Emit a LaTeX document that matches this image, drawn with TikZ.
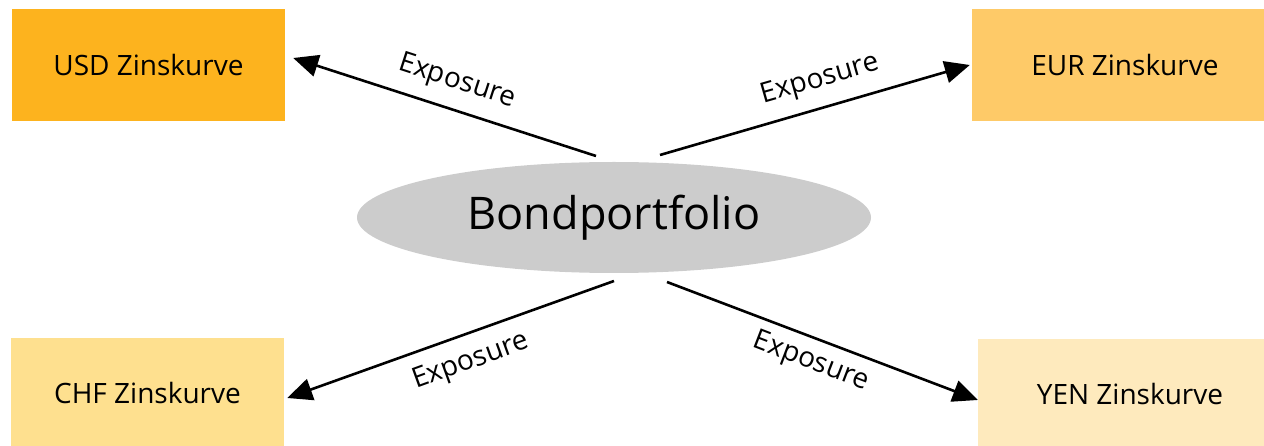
\documentclass[tikz,border=0pt]{standalone}
\usepackage{fontspec}
\setmainfont{Open Sans}
\usetikzlibrary{arrows.meta,shapes.geometric}
\definecolor{cusd}{HTML}{FDB31E}
\definecolor{ceur}{HTML}{FECA68}
\definecolor{cchf}{HTML}{FEE08F}
\definecolor{cyen}{HTML}{FEEABD}
\definecolor{cell}{HTML}{CCCCCC}
\tikzset{
  curvebox/.style={rectangle, inner sep=0pt, font=\fontsize{28}{32}\selectfont},
  expo/.style={inner sep=0pt, font=\fontsize{28}{30}\selectfont},
  conn/.style={line width=2.6pt, -{Triangle[length=25pt,width=22pt]}},
}
\begin{document}
\begin{tikzpicture}[x=1pt,y=-1pt]
\useasboundingbox (0,0) rectangle (1264,446);
\node[curvebox, fill=cusd, minimum width=273pt, minimum height=112pt] (usd) at (148.5,65) {USD Zinskurve};
\node[curvebox, fill=ceur, minimum width=292pt, minimum height=112pt] (eur) at (1118,65) {\hspace*{14pt}EUR Zinskurve};
\node[curvebox, fill=cchf, minimum width=273pt, minimum height=110pt] (chf) at (147.5,393) {CHF Zinskurve};
\node[curvebox, fill=cyen, minimum width=286pt, minimum height=110pt] (yen) at (1121,394) {\hspace*{18pt}YEN Zinskurve};
\node[ellipse, fill=cell, minimum width=514pt, minimum height=111pt, inner sep=0pt, font=\fontsize{45}{48}\selectfont] (bp) at (614,217.5) {Bondportfolio};
\coordinate (s1) at (596,156);
\coordinate (s2) at (660,155);
\coordinate (s3) at (614,281);
\coordinate (s4) at (667,282);
\draw[conn] (s1) -- ([xshift=8pt,yshift=7pt]usd.east);
\draw[conn] (s2) -- ([xshift=-2pt,yshift=0pt]eur.west);
\draw[conn] (s3) -- ([xshift=3pt,yshift=-5pt]chf.east);
\draw[conn] (s4) -- ([xshift=0pt,yshift=-6pt]yen.west);
\node[expo, rotate=-18] (l1) at (457,82) {Exposure};
\node[expo, rotate=16] (l2) at (820,80) {Exposure};
\node[expo, rotate=20] (l3) at (471,362) {Exposure};
\node[expo, rotate=-21] (l4) at (811,362) {Exposure};
\end{tikzpicture}
\end{document}
